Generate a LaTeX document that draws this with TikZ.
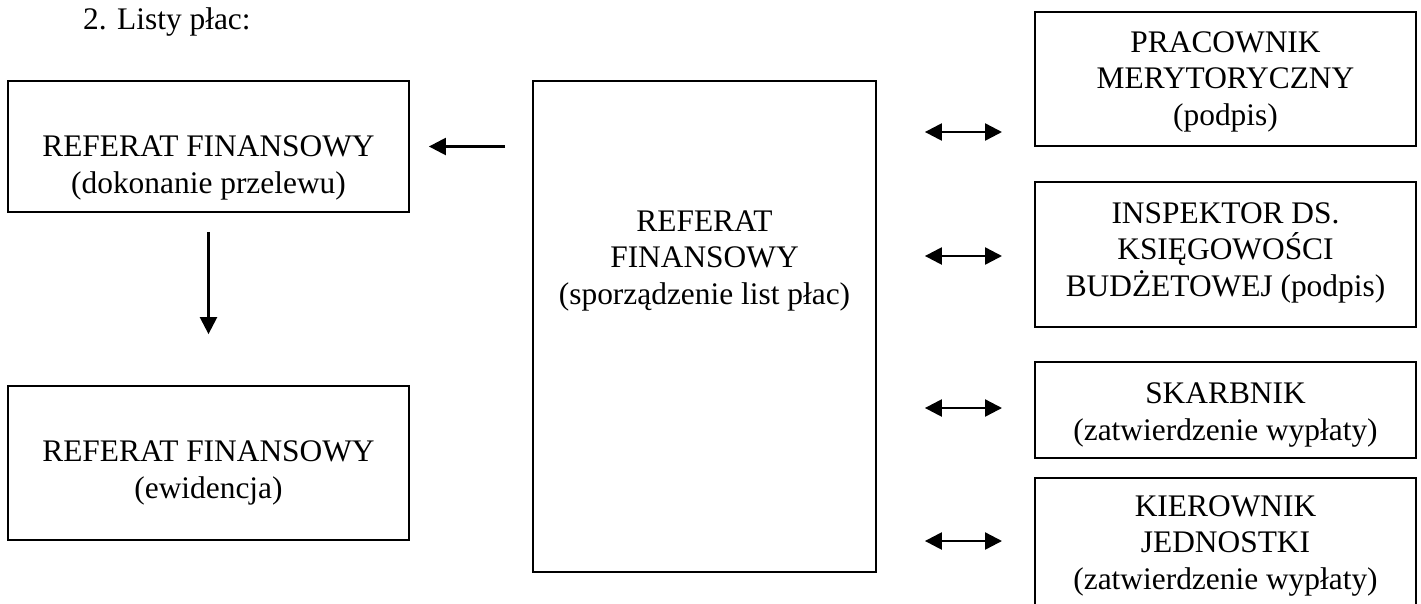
\documentclass[tikz,border=0pt]{standalone}
\usepackage{fontspec}
\setmainfont{Liberation Serif}
\usetikzlibrary{arrows.meta}

\begin{document}
\begin{tikzpicture}[x=1pt,y=-1pt,
  box/.style={draw=black, line width=1.8pt, inner sep=0pt, minimum width=#1},
  txt/.style={align=center, inner sep=0pt, anchor=base,
    font=\fontsize{31.4pt}{36.5pt}\selectfont},
  tip/.style={Triangle[length=17pt,width=17pt]},
  arr/.style={line width=2.4pt, -{Triangle[length=17pt,width=17pt]}},
  dbl/.style={line width=2.4pt, {Triangle[length=17pt,width=17pt]}-{Triangle[length=17pt,width=17pt]}}]

  \useasboundingbox (0,0) rectangle (1421,603);
  \clip (0,0) rectangle (1421,603);

  % heading
  \node[txt, anchor=base west] (title) at (83,29) {2. Listy płac:};

  % left column (text nodes are placed by the baseline of their last line)
  \node[box=401pt, minimum height=131pt] (A) at (208.5,146.5) {};
  \node[txt] (At) at (208.5,193) {REFERAT FINANSOWY\\(dokonanie przelewu)};
  \node[box=401pt, minimum height=154pt] (B) at (208.5,463) {};
  \node[txt] (Bt) at (208.5,498) {REFERAT FINANSOWY\\(ewidencja)};

  % central box
  \node[box=343pt, minimum height=491pt] (C) at (704.5,326.5) {};
  \node[txt] (Ct) at (704.5,304) {REFERAT\\FINANSOWY\\(sporządzenie list płac)};

  % right column
  \node[box=381pt, minimum height=134pt] (D1) at (1225.5,79) {};
  \node[txt] (D1t) at (1225.5,125) {PRACOWNIK\\MERYTORYCZNY\\(podpis)};
  \node[box=381pt, minimum height=145pt] (D2) at (1225.5,254.5) {};
  \node[txt] (D2t) at (1225.5,296) {INSPEKTOR DS.\\KSIĘGOWOŚCI\\BUDŻETOWEJ (podpis)};
  \node[box=381pt, minimum height=96pt] (D3) at (1225.5,410) {};
  \node[txt] (D3t) at (1225.5,440) {SKARBNIK\\(zatwierdzenie wypłaty)};
  \node[box=381pt, minimum height=150pt] (D4) at (1225.5,553) {};
  \node[txt] (D4t) at (1225.5,589) {KIEROWNIK\\JEDNOSTKI\\(zatwierdzenie wypłaty)};

  % arrow ends in front of the right-hand boxes
  \coordinate (r1) at (1002,132);
  \coordinate (r2) at (1002,256);
  \coordinate (r3) at (1002,408);
  \coordinate (r4) at (1002,541);

  % connectors
  \draw[arr, shorten <=27pt, shorten >=19pt] (C.west |- A.east) -- (A.east);
  \draw[arr, shorten <=19pt, shorten >=51pt] (A.south) -- (B.north);
  \draw[dbl, shorten <=48pt] (C.east |- r1) -- (r1);
  \draw[dbl, shorten <=48pt] (C.east |- r2) -- (r2);
  \draw[dbl, shorten <=48pt] (C.east |- r3) -- (r3);
  \draw[dbl, shorten <=48pt] (C.east |- r4) -- (r4);
\end{tikzpicture}
\end{document}
